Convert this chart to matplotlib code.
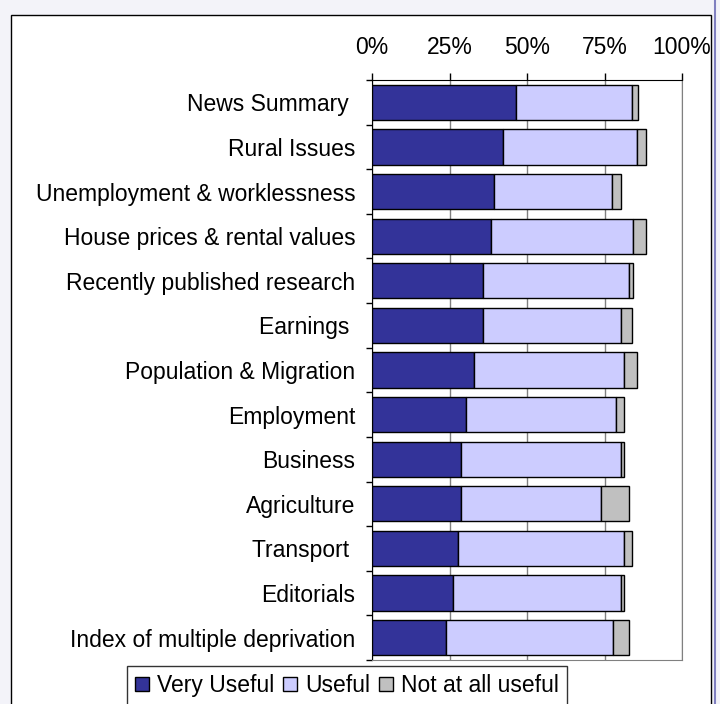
"""
stacked bar chart - how useful are the bulletin topics
"""
import matplotlib
matplotlib.use('Agg')
import matplotlib.pyplot as plt
from matplotlib.patches import Rectangle, Patch
from matplotlib.lines import Line2D
import numpy as np

plt.rcParams['font.family'] = ['Liberation Sans', 'DejaVu Sans']

topics = ['News Summary ', 'Rural Issues', 'Unemployment & worklessness',
          'House prices & rental values', 'Recently published research',
          'Earnings ', 'Population & Migration', 'Employment', 'Business',
          'Agriculture', 'Transport ', 'Editorials', 'Index of multiple deprivation']
very_useful = [46.3, 42.1, 39.4, 38.3, 35.7, 35.7, 33.0, 30.3, 28.7, 28.7, 27.6, 26.0, 23.9]
useful = [37.7, 43.5, 38.1, 45.8, 47.2, 44.5, 48.3, 48.3, 51.5, 45.2, 53.7, 54.2, 53.7]
not_useful = [1.7, 2.7, 2.8, 4.2, 1.2, 3.8, 4.3, 2.8, 1.2, 9.0, 2.7, 1.2, 5.3]
series_names = ['Very Useful', 'Useful', 'Not at all useful']
colours = ['#333399', '#CCCCFF', '#C0C0C0']
tick_vals = [0, 25, 50, 75, 100]
tick_labels = ['0%', '25%', '50%', '75%', '100%']

FS = 16.5
W, H = 720, 704
fig = plt.figure(figsize=(W / 100, H / 100), dpi=100)
fig.patch.set_facecolor('#F3F3F9')

# white chart frame + blue line on right edge (behind the axes)
frame = Rectangle((11 / W, -0.01), 700 / W, 1 - 15 / H + 0.01, transform=fig.transFigure,
                  facecolor='white', edgecolor='black', linewidth=1.0, zorder=-10)
fig.add_artist(frame)
fig.add_artist(Line2D([715 / W, 715 / W], [0, 1], transform=fig.transFigure, color='#8080C0',
                      linewidth=1.5, zorder=-10))

ax = fig.add_axes([372 / W, 1 - 660 / H, 310 / W, 580 / H])
ax.set_zorder(1)
y = np.arange(len(topics))
left = np.zeros(len(topics))
for vals, col in zip([very_useful, useful, not_useful], colours):
    ax.barh(y, vals, left=left, height=0.79, color=col, edgecolor='black', linewidth=1.0, zorder=3)
    left = left + np.array(vals)

ax.set_xlim(0, 100)
ax.set_ylim(len(topics) - 0.5, -0.5)
ax.xaxis.tick_top()
ax.set_xticks(tick_vals)
ax.set_xticklabels(tick_labels, fontsize=FS)
ax.tick_params(axis='x', direction='out', length=5, width=1, pad=10)
ax.grid(axis='x', color='#808080', linewidth=1.0, zorder=0)

ax.set_yticks(y)
ax.set_yticklabels(topics, fontsize=FS)
ax.tick_params(axis='y', which='major', length=0, pad=12)
ax.set_yticks(np.arange(len(topics) + 1) - 0.5, minor=True)
ax.tick_params(axis='y', which='minor', direction='out', length=4, width=1)

ax.spines['top'].set_color('black')
ax.spines['left'].set_color('black')
ax.spines['right'].set_color('#808080')
ax.spines['bottom'].set_color('#808080')

handles = [Patch(facecolor=c, edgecolor='black', linewidth=1.0) for c in colours]
leg = fig.legend(handles, series_names, loc='upper left', bbox_to_anchor=(127 / W, 1 - 666 / H),
                 ncol=3, fontsize=FS, frameon=True, fancybox=False, handlelength=0.6,
                 handleheight=0.6, handletextpad=0.35, columnspacing=0.4, borderpad=0.35,
                 borderaxespad=0)
leg.get_frame().set_edgecolor('black')
leg.get_frame().set_linewidth(1.0)

fig.savefig('out.png', dpi=100, facecolor=fig.get_facecolor())
